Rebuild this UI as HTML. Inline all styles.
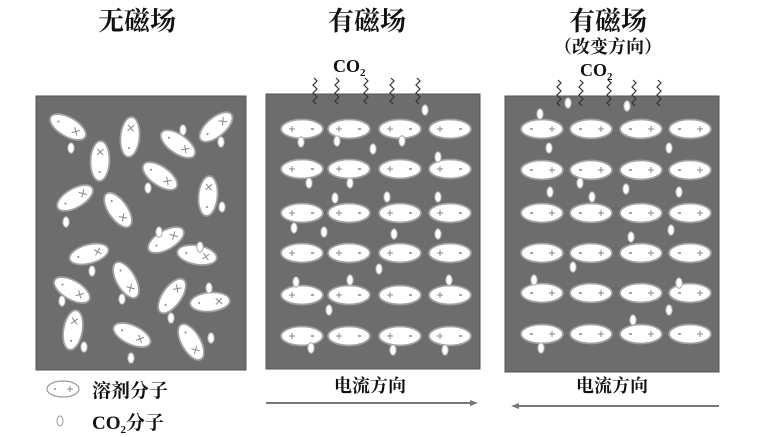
<!DOCTYPE html>
<html><head><meta charset="utf-8"><style>
html,body{margin:0;padding:0;background:#fff;}
svg{display:block;}
text{font-family:"Liberation Serif","Noto Serif CJK SC","Noto Sans CJK SC",serif;fill:#111;}
</style></head><body>
<svg width="759" height="437" viewBox="0 0 759 437" xmlns="http://www.w3.org/2000/svg">
<defs>
<g id="mp"><ellipse rx="21" ry="9.5" fill="#fff" stroke="#a0a0a0" stroke-width="1.8"/><path d="M-13,0h6M-10,-3v6" stroke="#888" stroke-width="1"/><path d="M9,0h3" stroke="#888" stroke-width="1.5"/></g>
<g id="mn"><ellipse rx="21" ry="9.5" fill="#fff" stroke="#a0a0a0" stroke-width="1.8"/><path d="M7,0h6M10,-3v6" stroke="#888" stroke-width="1"/><path d="M-12,0h3" stroke="#888" stroke-width="1.5"/></g>
<g id="lm"><ellipse rx="20" ry="9.5" fill="#fff" stroke="#a0a0a0" stroke-width="1.8"/><path d="M6,-3l6,6M12,-3l-6,6" stroke="#888" stroke-width="1"/><circle cx="-11" cy="0" r="1" fill="#888"/></g>
<ellipse id="c" rx="3.2" ry="5.2" fill="#fff" stroke="#aaa" stroke-width="1"/>
<path id="w" d="M0,0 l3,3 -4,4 4,4 -4,4 4,4 -4,4 3,3" fill="none" stroke="#333" stroke-width="1.2"/>
</defs>

<text x="137" y="30" font-size="26" font-weight="bold" text-anchor="middle">无磁场</text>
<text x="367" y="30" font-size="26" font-weight="bold" text-anchor="middle">有磁场</text>
<text x="608" y="30" font-size="26" font-weight="bold" text-anchor="middle">有磁场</text>
<text x="608" y="53" font-size="18" font-weight="bold" text-anchor="middle">（改变方向）</text>
<text x="333" y="72" font-size="18" font-weight="bold">CO<tspan font-size="11" dy="4">2</tspan></text>
<text x="580" y="76" font-size="18" font-weight="bold">CO<tspan font-size="11" dy="4">2</tspan></text>

<rect x="36" y="96" width="210" height="274" fill="#6d6d6d" stroke="#555"/>
<rect x="266" y="94" width="214" height="275" fill="#6d6d6d" stroke="#555"/>
<rect x="505" y="96" width="214" height="276" fill="#6d6d6d" stroke="#555"/>

<use href="#lm" transform="translate(68,127) rotate(30)"/><use href="#c" x="71" y="148"/>
<use href="#lm" transform="translate(130,137) rotate(-85)"/>
<use href="#lm" transform="translate(178,144) rotate(35)"/><use href="#c" x="183" y="130"/>
<use href="#lm" transform="translate(216,127) rotate(-40)"/><use href="#c" x="221" y="142"/>
<use href="#lm" transform="translate(100,161) rotate(-88)"/>
<use href="#lm" transform="translate(160,176) rotate(35)"/><use href="#c" x="148" y="188"/>
<use href="#lm" transform="translate(208,196) rotate(-85)"/><use href="#c" x="222" y="207"/>
<use href="#lm" transform="translate(75,198) rotate(-30)"/><use href="#c" x="66" y="222"/>
<use href="#lm" transform="translate(118,210) rotate(55)"/>
<use href="#lm" transform="translate(166,240) rotate(-30)"/><use href="#c" x="159" y="232"/>
<use href="#lm" transform="translate(197,255) rotate(10)"/><use href="#c" x="200" y="247"/>
<use href="#lm" transform="translate(89,254) rotate(-15)"/><use href="#c" x="92" y="271"/>
<use href="#lm" transform="translate(126,280) rotate(60)"/><use href="#c" x="122" y="299"/>
<use href="#lm" transform="translate(72,290) rotate(30)"/><use href="#c" x="62" y="301"/>
<use href="#lm" transform="translate(172,296) rotate(-55)"/><use href="#c" x="171" y="318"/>
<use href="#lm" transform="translate(210,302) rotate(-5)"/><use href="#c" x="209" y="288"/>
<use href="#lm" transform="translate(73,330) rotate(-80)"/><use href="#c" x="84" y="347"/>
<use href="#lm" transform="translate(132,335) rotate(25)"/><use href="#c" x="131" y="358"/>
<use href="#lm" transform="translate(191,342) rotate(60)"/><use href="#c" x="211" y="338"/>

<g>
<use href="#w" x="314" y="78"/><use href="#w" x="336" y="78"/><use href="#w" x="365" y="78"/><use href="#w" x="391" y="78"/><use href="#w" x="417" y="78"/>
<use href="#mp" x="302" y="129"/><use href="#mp" x="349" y="129"/><use href="#mp" x="400" y="129"/><use href="#mp" x="450" y="129"/>
<use href="#mp" x="302" y="169"/><use href="#mp" x="349" y="169"/><use href="#mp" x="400" y="169"/><use href="#mp" x="450" y="169"/>
<use href="#mp" x="302" y="213"/><use href="#mp" x="349" y="213"/><use href="#mp" x="400" y="213"/><use href="#mp" x="450" y="213"/>
<use href="#mp" x="302" y="253"/><use href="#mp" x="349" y="253"/><use href="#mp" x="400" y="253"/><use href="#mp" x="450" y="253"/>
<use href="#mp" x="302" y="295"/><use href="#mp" x="349" y="295"/><use href="#mp" x="400" y="295"/><use href="#mp" x="450" y="295"/>
<use href="#mp" x="302" y="336"/><use href="#mp" x="349" y="336"/><use href="#mp" x="400" y="336"/><use href="#mp" x="450" y="336"/>
<use href="#c" x="425" y="110"/><use href="#c" x="301" y="142"/><use href="#c" x="337" y="141"/><use href="#c" x="373" y="149"/><use href="#c" x="402" y="141"/><use href="#c" x="438" y="157"/>
<use href="#c" x="309" y="183"/><use href="#c" x="350" y="183"/><use href="#c" x="335" y="198"/><use href="#c" x="387" y="197"/><use href="#c" x="438" y="197"/>
<use href="#c" x="294" y="228"/><use href="#c" x="324" y="232"/><use href="#c" x="394" y="234"/><use href="#c" x="438" y="234"/>
<use href="#c" x="379" y="269"/><use href="#c" x="296" y="282"/><use href="#c" x="350" y="280"/><use href="#c" x="449" y="280"/><use href="#c" x="329" y="310"/>
<use href="#c" x="311" y="348"/><use href="#c" x="393" y="350"/><use href="#c" x="445" y="350"/>
</g>

<g>
<use href="#w" x="558" y="80"/><use href="#w" x="580" y="80"/><use href="#w" x="608" y="80"/><use href="#w" x="633" y="80"/><use href="#w" x="658" y="80"/>
<use href="#mn" x="542" y="129"/><use href="#mn" x="591" y="129"/><use href="#mn" x="641" y="129"/><use href="#mn" x="690" y="129"/>
<use href="#mn" x="542" y="170"/><use href="#mn" x="591" y="170"/><use href="#mn" x="641" y="170"/><use href="#mn" x="690" y="170"/>
<use href="#mn" x="542" y="213"/><use href="#mn" x="591" y="213"/><use href="#mn" x="641" y="213"/><use href="#mn" x="690" y="213"/>
<use href="#mn" x="542" y="253"/><use href="#mn" x="591" y="253"/><use href="#mn" x="641" y="253"/><use href="#mn" x="690" y="253"/>
<use href="#mn" x="542" y="293"/><use href="#mn" x="591" y="293"/><use href="#mn" x="641" y="293"/><use href="#mn" x="690" y="293"/>
<use href="#mn" x="542" y="334"/><use href="#mn" x="591" y="334"/><use href="#mn" x="641" y="334"/><use href="#mn" x="690" y="334"/>
<use href="#c" x="568" y="103"/><use href="#c" x="627" y="106"/><use href="#c" x="540" y="114"/>
<use href="#c" x="549" y="148"/><use href="#c" x="669" y="148"/><use href="#c" x="580" y="183"/><use href="#c" x="550" y="192"/><use href="#c" x="626" y="189"/><use href="#c" x="592" y="197"/><use href="#c" x="679" y="192"/>
<use href="#c" x="631" y="237"/><use href="#c" x="671" y="230"/><use href="#c" x="573" y="267"/><use href="#c" x="534" y="280"/><use href="#c" x="679" y="283"/><use href="#c" x="669" y="310"/>
<use href="#c" x="633" y="320"/><use href="#c" x="541" y="348"/>
</g>

<text x="370" y="392" font-size="18" font-weight="bold" text-anchor="middle">电流方向</text>
<text x="612" y="392" font-size="18" font-weight="bold" text-anchor="middle">电流方向</text>
<line x1="266" y1="403" x2="472" y2="403" stroke="#777" stroke-width="2"/>
<path d="M478,403 l-8,-3 v6z" fill="#777"/>
<line x1="518" y1="406" x2="719" y2="406" stroke="#777" stroke-width="2"/>
<path d="M511,406 l8,-3 v6z" fill="#777"/>

<g transform="translate(63,389)"><ellipse rx="16" ry="8" fill="#fff" stroke="#999" stroke-width="1.2"/><path d="M4,0h6M7,-3v6" stroke="#888" stroke-width="1"/><circle cx="-8" cy="0" r="1" fill="#888"/></g>
<text x="92" y="397" font-size="19" font-weight="bold">溶剂分子</text>
<ellipse cx="60" cy="421" rx="3" ry="5" fill="#fff" stroke="#999" stroke-width="1"/>
<text x="92" y="429" font-size="19" font-weight="bold">CO<tspan font-size="11" dy="4">2</tspan><tspan dy="-4">分子</tspan></text>
</svg>
</body></html>
